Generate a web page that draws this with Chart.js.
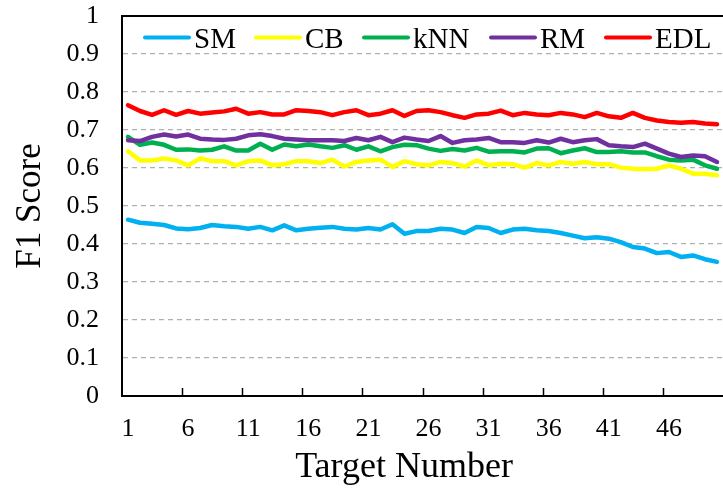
<!DOCTYPE html>
<html>
<head>
<meta charset="utf-8">
<script src="https://cdn.jsdelivr.net/npm/chart.js@4.4.1/dist/chart.umd.min.js"></script>
<style>
  body { margin: 0; background: #fff; }
  #wrap { width: 723px; height: 488px; position: relative; }
</style>
</head>
<body>
<div id="wrap"><canvas id="myChart"></canvas></div>
<script>
const targets = ['1','2','3','4','5','6','7','8','9','10','11','12','13','14','15','16','17','18','19','20',
  '21','22','23','24','25','26','27','28','29','30','31','32','33','34','35','36','37','38','39','40',
  '41','42','43','44','45','46','47','48','49','50'];
const xTickLabels = ['1','6','11','16','21','26','31','36','41','46'];

const sm = [0.464,0.456,0.453,0.450,0.441,0.439,0.442,0.450,0.447,0.445,0.440,0.445,0.436,0.449,0.436,0.440,0.443,0.445,0.440,0.438,
  0.442,0.438,0.452,0.427,0.434,0.434,0.440,0.438,0.429,0.445,0.442,0.429,0.438,0.440,0.436,0.434,0.429,0.422,0.415,0.418,
  0.414,0.405,0.392,0.388,0.376,0.379,0.366,0.370,0.360,0.353];
const cb = [0.644,0.620,0.620,0.625,0.620,0.607,0.625,0.618,0.618,0.607,0.618,0.620,0.607,0.610,0.618,0.618,0.613,0.622,0.604,0.616,
  0.620,0.622,0.603,0.618,0.610,0.607,0.616,0.613,0.604,0.620,0.607,0.611,0.610,0.601,0.613,0.607,0.616,0.611,0.616,0.610,
  0.610,0.601,0.598,0.597,0.598,0.607,0.598,0.585,0.585,0.581];
const knn = [0.682,0.661,0.667,0.661,0.648,0.649,0.646,0.648,0.657,0.646,0.646,0.664,0.648,0.662,0.657,0.662,0.657,0.653,0.660,0.648,
  0.657,0.644,0.655,0.661,0.660,0.651,0.645,0.650,0.646,0.653,0.643,0.644,0.644,0.641,0.651,0.652,0.639,0.646,0.652,0.642,
  0.642,0.644,0.641,0.641,0.631,0.622,0.620,0.622,0.607,0.598];
const rm = [0.673,0.671,0.682,0.688,0.683,0.688,0.677,0.675,0.674,0.677,0.686,0.689,0.684,0.677,0.675,0.673,0.673,0.673,0.671,0.679,
  0.673,0.682,0.668,0.680,0.675,0.671,0.684,0.666,0.673,0.675,0.679,0.668,0.668,0.666,0.673,0.667,0.677,0.668,0.673,0.676,
  0.660,0.657,0.655,0.664,0.651,0.638,0.629,0.633,0.631,0.616];
const edl = [0.765,0.750,0.740,0.752,0.740,0.750,0.743,0.746,0.749,0.756,0.743,0.747,0.741,0.741,0.752,0.750,0.747,0.739,0.747,0.752,
  0.739,0.743,0.752,0.737,0.750,0.752,0.747,0.739,0.732,0.741,0.743,0.751,0.739,0.745,0.741,0.739,0.745,0.741,0.734,0.745,
  0.736,0.732,0.745,0.732,0.725,0.721,0.719,0.721,0.717,0.715];

const serif = "'Liberation Serif', 'Times New Roman', serif";

// legend inside the plot, top frame, inward x tick marks and x title
const extras = {
  id: 'extras',
  afterDraw(chart) {
    const ctx = chart.ctx;
    const area = chart.chartArea;
    const xs = chart.scales.x;
    ctx.save();
    // top frame
    ctx.strokeStyle = '#000';
    ctx.lineWidth = 2;
    ctx.beginPath();
    ctx.moveTo(area.left, area.top);
    ctx.lineTo(area.right, area.top);
    ctx.stroke();

    // tick marks between categories, every 5th boundary
    ctx.lineWidth = 1.5;
    xTickLabels.slice(1).forEach((lab) => {
      const i = targets.indexOf(lab);
      const px = Math.round((xs.getPixelForValue(i - 1) + xs.getPixelForValue(i)) / 2) + 0.5;
      ctx.beginPath();
      ctx.moveTo(px, area.bottom);
      ctx.lineTo(px, area.bottom - 8);
      ctx.stroke();
    });

    // legend
    const lx = [145, 256, 364, 491, 606];
    ctx.font = '29px ' + serif;
    ctx.textBaseline = 'alphabetic';
    ctx.textAlign = 'left';
    chart.data.datasets.forEach((ds, i) => {
      ctx.strokeStyle = ds.borderColor;
      ctx.lineWidth = 4;
      ctx.lineCap = 'round';
      ctx.beginPath();
      ctx.moveTo(lx[i], 37.5);
      ctx.lineTo(lx[i] + 44, 37.5);
      ctx.stroke();
      ctx.fillStyle = '#000';
      ctx.fillText(ds.label, lx[i] + 49, 48);
    });

    // x axis title
    ctx.font = '36px ' + serif;
    ctx.textAlign = 'center';
    ctx.fillText('Target Number', 404, 477);
    ctx.restore();
  }
};

const noPad = (scale) => {
  scale.paddingTop = 0;
  scale.paddingBottom = 0;
  scale.paddingLeft = 0;
  scale.paddingRight = 0;
};

const ctx = document.getElementById('myChart').getContext('2d');
new Chart(ctx, {
  type: 'line',
  data: {
    labels: targets,
    datasets: [
      { label: 'SM', data: sm, borderColor: '#00B0F0', order: 5 },
      { label: 'CB', data: cb, borderColor: '#FFFF00', order: 4 },
      { label: 'kNN', data: knn, borderColor: '#00B050', order: 3 },
      { label: 'RM', data: rm, borderColor: '#7030A0', order: 2 },
      { label: 'EDL', data: edl, borderColor: '#FF0000', order: 1 }
    ]
  },
  options: {
    responsive: true,
    maintainAspectRatio: false,
    animation: false,
    devicePixelRatio: 1,
    layout: { padding: { top: 16, right: 0, bottom: 0, left: 0 } },
    elements: {
      line: { borderWidth: 4.5, tension: 0, borderJoinStyle: 'round', borderCapStyle: 'round' },
      point: { radius: 0, hoverRadius: 0 }
    },
    plugins: {
      legend: { display: false },
      tooltip: { enabled: false }
    },
    scales: {
      x: {
        type: 'category',
        offset: true,
        afterFit(scale) { scale.height = 92; noPad(scale); },
        grid: { display: false },
        border: { color: '#000', width: 2 },
        ticks: {
          autoSkip: false,
          maxRotation: 0,
          padding: 10,
          color: '#000',
          font: { family: serif, size: 26 },
          callback: function (val) {
            const lab = this.getLabelForValue(val);
            return xTickLabels.includes(lab) ? lab : '';
          }
        }
      },
      y: {
        min: 0,
        max: 1,
        afterFit(scale) { scale.width = 122; noPad(scale); },
        grid: {
          drawTicks: false,
          lineWidth: 1.3,
          color: (c) => (c.tick && c.tick.value > 0.001 && c.tick.value < 0.999) ? '#B0B0B0' : 'rgba(0,0,0,0)'
        },
        border: { color: '#000', width: 2, dash: [5, 4] },
        ticks: {
          stepSize: 0.1,
          padding: 23,
          color: '#000',
          font: { family: serif, size: 26 },
          callback: (v) => String(Math.round(v * 10) / 10)
        },
        title: {
          display: true,
          text: 'F1 Score',
          color: '#000',
          font: { family: serif, size: 35, lineHeight: 1 },
          padding: { top: 13, bottom: 0 }
        }
      }
    }
  },
  plugins: [extras]
});
</script>
</body>
</html>
